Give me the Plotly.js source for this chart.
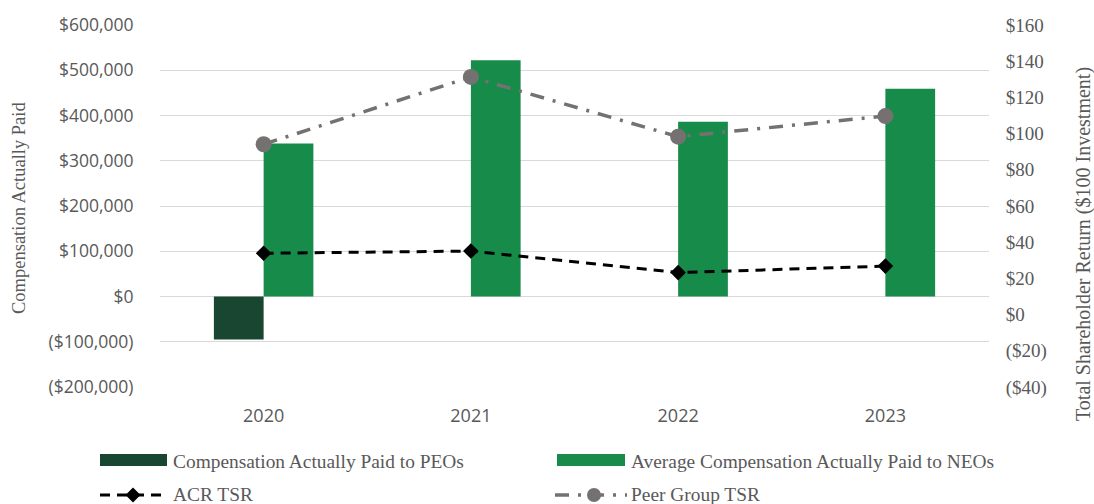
<!DOCTYPE html>
<html>
<head>
<meta charset="utf-8">
<script src="https://cdn.plot.ly/plotly-3.0.1.min.js"></script>
<style>html,body{margin:0;padding:0;background:#fff;}#chart{width:1094px;height:504px;}</style>
</head>
<body>
<div id="chart"></div>
<script>
const years = ["2020", "2021", "2022", "2023"];
const peoCap = [-95000, null, null, null];
const neoCap = [338000, 522000, 386000, 459000];
const acrTsr = [33.9, 35.1, 23.2, 26.8];
const peerTsr = [94.1, 131.3, 98.3, 109.7];
const leftTickVals = [-200000, -100000, 0, 100000, 200000, 300000, 400000, 500000, 600000];
const leftTickText = ["($200,000)", "($100,000)", "$0", "$100,000", "$200,000", "$300,000", "$400,000", "$500,000", "$600,000"];
const rightTickVals = [-40, -20, 0, 20, 40, 60, 80, 100, 120, 140, 160];
const rightTickText = ["($40)", "($20)", "$0", "$20", "$40", "$60", "$80", "$100", "$120", "$140", "$160"];
const seriesNames = ["Compensation Actually Paid to PEOs", "Average Compensation Actually Paid to NEOs", "ACR TSR", "Peer Group TSR"];
const leftTitle = "Compensation Actually Paid";
const rightTitle = "Total Shareholder Return ($100 Investment)";

const serif = "Liberation Serif, Times New Roman, serif";
const sans = "Open Sans, Noto Sans, sans-serif";
const grey = "#595959";
const peoColor = "#184631", neoColor = "#168b4a", acrColor = "#000000", peerColor = "#767171";
const acrDash = "10px,7px", peerDash = "14px,9px,3px,9px";

const W = 1094, H = 504;
const M = {l: 160, r: 105, t: 25, b: 117};
const pw = W - M.l - M.r, ph = H - M.t - M.b;
const px = v => (v - M.l) / pw;
const py = v => (H - M.b - v) / ph;

const traces = [
  {type: "bar", name: seriesNames[0], x: years, y: peoCap, marker: {color: peoColor}, yaxis: "y"},
  {type: "bar", name: seriesNames[1], x: years, y: neoCap, marker: {color: neoColor}, yaxis: "y"},
  {type: "scatter", mode: "lines+markers", name: seriesNames[2], x: years, y: acrTsr, yaxis: "y2",
   line: {color: acrColor, width: 3, dash: acrDash},
   marker: {symbol: "diamond", size: 12, color: acrColor}},
  {type: "scatter", mode: "lines+markers", name: seriesNames[3], x: years, y: peerTsr, yaxis: "y2",
   line: {color: peerColor, width: 3.5, dash: peerDash},
   marker: {symbol: "circle", size: 16, color: peerColor}}
];

// custom legend (decoration, placed in pixel space)
const shapes = [];
const annotations = [];
function legendText(txt, x, y) {
  annotations.push({text: txt, xref: "paper", yref: "paper", x: px(x), y: py(y), xanchor: "left", yanchor: "middle",
    showarrow: false, font: {family: serif, size: 19.4, color: grey}});
}
shapes.push({type: "rect", xref: "paper", yref: "paper", x0: px(100), x1: px(167), y0: py(454), y1: py(466),
  fillcolor: peoColor, line: {width: 0}});
shapes.push({type: "rect", xref: "paper", yref: "paper", x0: px(557), x1: px(625), y0: py(454), y1: py(466),
  fillcolor: neoColor, line: {width: 0}});
legendText(seriesNames[0], 171, 461);
legendText(seriesNames[1], 629, 461);
shapes.push({type: "line", xref: "paper", yref: "paper", x0: px(100), x1: px(167), y0: py(495), y1: py(495),
  line: {color: acrColor, width: 3, dash: acrDash}});
shapes.push({type: "path", xref: "paper", yref: "paper",
  path: `M${px(125.5)},${py(495)} L${px(133)},${py(487.5)} L${px(140.5)},${py(495)} L${px(133)},${py(502.5)} Z`,
  fillcolor: acrColor, line: {width: 0}});
shapes.push({type: "line", xref: "paper", yref: "paper", x0: px(555), x1: px(627), y0: py(495), y1: py(495),
  line: {color: peerColor, width: 3.5, dash: peerDash}});
shapes.push({type: "circle", xref: "paper", yref: "paper", x0: px(587), x1: px(601), y0: py(488), y1: py(502),
  fillcolor: peerColor, line: {width: 0}});
legendText(seriesNames[2], 171, 494);
legendText(seriesNames[3], 629, 494);

// axis titles
annotations.push({text: leftTitle, xref: "paper", yref: "paper", x: px(19), y: py(208), textangle: -90,
  xanchor: "center", yanchor: "middle", showarrow: false, font: {family: serif, size: 18.5, color: grey}});
annotations.push({text: rightTitle, xref: "paper", yref: "paper", x: px(1083), y: py(244), textangle: -90,
  xanchor: "center", yanchor: "middle", showarrow: false, font: {family: serif, size: 20, color: grey}});

const layout = {
  width: W, height: H,
  margin: M,
  paper_bgcolor: "#ffffff", plot_bgcolor: "#ffffff",
  barmode: "group", bargap: 0.52, bargroupgap: 0,
  showlegend: false,
  shapes: shapes,
  annotations: annotations,
  xaxis: {type: "category", tickfont: {family: sans, size: 18, color: grey},
    showgrid: false, zeroline: false, showline: false, ticks: "outside", ticklen: 12, tickcolor: "rgba(0,0,0,0)"},
  yaxis: {range: [-200000, 600000], tickvals: leftTickVals, ticktext: leftTickText,
    tickfont: {family: sans, size: 17.5, color: grey}, gridcolor: "#d9d9d9", gridwidth: 1,
    zeroline: true, zerolinecolor: "#d9d9d9", zerolinewidth: 1, showline: false,
    ticks: "outside", ticklen: 22, tickcolor: "rgba(0,0,0,0)"},
  yaxis2: {overlaying: "y", side: "right", range: [-40, 160], tickvals: rightTickVals, ticktext: rightTickText,
    tickfont: {family: serif, size: 19, color: grey}, showgrid: false, zeroline: false, showline: false,
    ticks: "outside", ticklen: 12, tickcolor: "rgba(0,0,0,0)"}
};

Plotly.newPlot("chart", traces, layout, {displayModeBar: false, staticPlot: true});
</script>
</body>
</html>
